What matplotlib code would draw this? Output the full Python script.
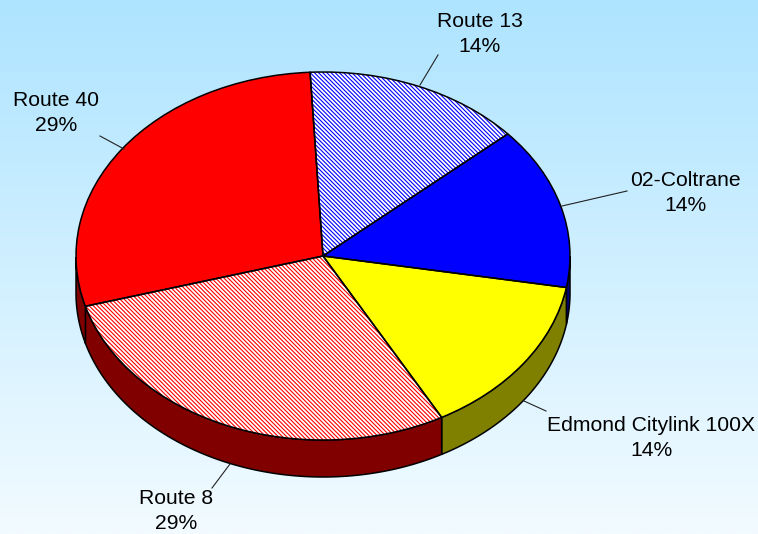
import numpy as np
import matplotlib
matplotlib.use('Agg')
import matplotlib.pyplot as plt

plt.rcParams['font.family'] = ['Liberation Sans', 'DejaVu Sans']
plt.rcParams['hatch.linewidth'] = 0.8

# slices, clockwise from the top
routes = ['Route 13', '02-Coltrane', 'Edmond Citylink 100X', 'Route 8', 'Route 40']
shares = [1, 1, 1, 2, 2]
percents = ['14%', '14%', '14%', '29%', '29%']
top_colors = ['white', '#0000ff', '#ffff00', 'white', '#ff0000']
hatch_colors = ['#0000ff', '#0000ff', '#ffff00', '#ff0000', '#ff0000']
hatches = ['\\' * 8, None, None, '\\' * 8, None]
side_colors = ['#000080', '#000080', '#808000', '#800000', '#800000']

W, H = 758, 534
cx, cy, rx, ry, depth = 323, 256, 247, 184, 37
start = 93


def px(x, y):
    return (x - cx) / rx, (cy - y) / ry


fig = plt.figure(figsize=(W / 100, H / 100), dpi=100)
ax = fig.add_axes([0, 0, 1, 1])

# background
xlim = (px(0, 0)[0], px(W, 0)[0])
ylim = (px(0, H)[1], px(0, 0)[1])
grad = np.linspace(0, 1, 256)[:, None]
c1 = np.array([174, 228, 255]) / 255
c2 = np.array([242, 251, 255]) / 255
img = (c1 + (c2 - c1) * grad).reshape(256, 1, 3)
ax.imshow(img, extent=(xlim[0], xlim[1], ylim[0], ylim[1]), aspect='auto', origin='upper', zorder=0)

# side wall
fractions = np.array(shares) / sum(shares)
edges = start - 360 * np.concatenate([[0], np.cumsum(fractions)])
dz = depth / ry
for i in range(len(shares)):
    t = np.radians(np.linspace(edges[i], edges[i + 1], 200))
    visible = np.sin(t) <= 0.001
    if not visible.any():
        continue
    x = np.cos(t[visible])
    y = np.sin(t[visible])
    ax.fill(np.concatenate([x, x[::-1]]), np.concatenate([y, y[::-1] - dz]),
            facecolor=side_colors[i], edgecolor='black', linewidth=1.1, zorder=2)

# top face
wedges, _ = ax.pie(shares, startangle=start, counterclock=False, colors=top_colors, radius=1,
                   wedgeprops={'linewidth': 0})
for w, h, hc in zip(wedges, hatches, hatch_colors):
    w.set_zorder(3)
    if h:
        w.set_hatch(h)
        w.set_edgecolor(hc)
outline, _ = ax.pie(shares, startangle=start, counterclock=False, colors=['none'] * 5, radius=1,
                    wedgeprops={'linewidth': 1.1, 'edgecolor': 'black'})
for w in outline:
    w.set_zorder(4)

# labels and leader lines
label_xy = [(480, 34), (685, 193), (651, 438), (176, 511), (56, 113)]
leaders = [((420, 85), (438, 55)), ((562, 206), (627, 191)), ((524, 401), (546, 411)),
           ((230, 464), (212, 488)), ((124, 149), (100, 136))]
for name, pct, xy, (p0, p1) in zip(routes, percents, label_xy, leaders):
    a, b = px(*p0), px(*p1)
    ax.plot([a[0], b[0]], [a[1], b[1]], color='#222222', linewidth=0.8, zorder=5)
    tx, ty = px(*xy)
    ax.text(tx, ty, name + '\n' + pct, ha='center', va='center', fontsize=15.2, linespacing=1.36,
            color='black', zorder=6)

ax.set_xlim(*xlim)
ax.set_ylim(*ylim)
ax.set_aspect('auto')
ax.axis('off')
fig.savefig('out.png', dpi=100)
